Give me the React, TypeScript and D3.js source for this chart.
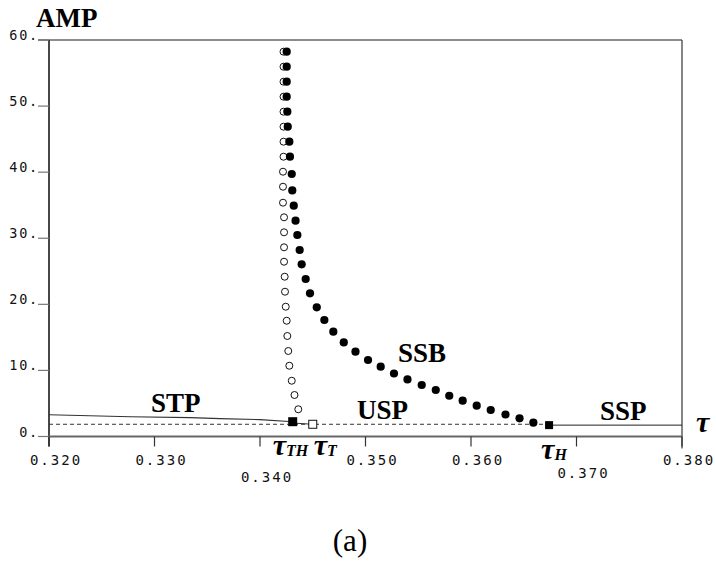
import * as d3 from 'd3';
import React from 'react';

// tau axis ticks and amplitude ticks
const tauTicks = [0.32, 0.33, 0.34, 0.35, 0.36, 0.37, 0.38];
const ampTicks = [0, 10, 20, 30, 40, 50, 60];

// STP branch (solid line to the left of tau_TH)
const stpTau = [0.32, 0.3277, 0.3334, 0.3362, 0.34, 0.3431];
const stpAmp = [3.3, 3.0, 2.85, 2.7, 2.55, 2.24];

// USP (dashed) and SSP (solid) steady states
const uspTau = [0.32, 0.3674];
const uspAmp = [1.85, 1.85];
const sspTau = [0.3674, 0.38];
const sspAmp = [1.72, 1.72];

// bifurcation points
const tauTH = 0.3431, ampTH = 2.24;
const tauT = 0.345, ampT = 1.85;
const tauH = 0.3674, ampH = 1.72;

// stable branch (filled circles)
const ssbTau = [
  0.34253, 0.34253, 0.34253, 0.34253, 0.34259, 0.34263, 0.34278, 0.34284,
  0.34301, 0.34306, 0.3432, 0.34337, 0.34354, 0.34376, 0.34395, 0.34433,
  0.34474, 0.34538, 0.3461, 0.34695, 0.34794, 0.34905, 0.35024, 0.35144,
  0.3527, 0.35398, 0.35533, 0.35666, 0.35794, 0.35921, 0.36054, 0.36187,
  0.36327, 0.3646, 0.36591,
];
const ssbAmp = [
  58.23, 55.96, 53.69, 51.42, 49.15, 46.88, 44.61, 42.34,
  39.72, 37.23, 34.93, 32.66, 30.49, 28.22, 26.06, 23.83,
  21.67, 19.55, 17.63, 15.86, 14.23, 12.83, 11.58, 10.56,
  9.53, 8.63, 7.79, 7.04, 6.17, 5.42, 4.66, 4.01,
  3.33, 2.75, 2.09,
];

// unstable branch (open circles)
const uspbTau = [
  0.34223, 0.34223, 0.34223, 0.34223, 0.34223, 0.34223, 0.34223, 0.34223,
  0.34218, 0.34218, 0.34218, 0.34228, 0.34228, 0.34228, 0.34228, 0.34234,
  0.34237, 0.34244, 0.34253, 0.34259, 0.34268, 0.34278, 0.34301, 0.34327,
  0.34363,
];
const uspbAmp = [
  58.23, 55.96, 53.69, 51.42, 49.15, 46.88, 44.61, 42.34,
  40.07, 37.8, 35.38, 33.17, 30.9, 28.63, 26.45, 24.18,
  21.91, 19.64, 17.52, 15.21, 12.94, 10.71, 8.44, 6.28,
  4.12,
];

const W = 716;
const H = 563;
const x = d3.scaleLinear().domain([0.32, 0.38]).range([49, 682]);
const y = d3.scaleLinear().domain([0, 60]).range([436.5, 40]);

const monoFont = '"DejaVu Sans Mono", monospace';
const serifFont = '"Liberation Serif", "Times New Roman", serif';

const line = (ts: number[], as: number[]) =>
  d3.line<number>().x((t) => x(t)).y((_, i) => y(as[i]))(ts) || '';

export default function App() {
  const fmt = d3.format('.3f');
  // labels that sit lower to make room for the tau_TH / tau_H labels
  const lowered: Record<string, number> = { '0.340': 482, '0.370': 478 };

  return (
    <svg
      width={W}
      height={H}
      style={{ position: 'absolute', left: 0, top: 0, background: '#fff' }}
    >
      {/* frame */}
      <line x1={38} x2={x(0.38)} y1={y(60)} y2={y(60)} stroke="#666" strokeWidth={1.4} />
      <line x1={x(0.38)} x2={x(0.38)} y1={y(60)} y2={y(0) + 12} stroke="#444" strokeWidth={1.3} />
      <line x1={x(0.32)} x2={x(0.32)} y1={y(60)} y2={y(0) + 10} stroke="#333" strokeWidth={1.8} />
      <line x1={x(0.32)} x2={x(0.38)} y1={y(0)} y2={y(0)} stroke="#666" strokeWidth={1.8} />

      {/* y ticks */}
      {ampTicks.map((v) => (
        <g key={'a' + v}>
          <line x1={38} x2={x(0.32)} y1={y(v)} y2={y(v)} stroke="#777" strokeWidth={1.2} />
          <text
            x={39}
            y={y(v)}
            textAnchor="end"
            fontFamily={monoFont}
            fontSize={13.5}
            letterSpacing={1.8}
            fill="#111"
          >
            {v + '.'}
          </text>
        </g>
      ))}

      {/* x ticks */}
      {tauTicks.map((t) => {
        const lab = fmt(t);
        return (
          <g key={'t' + t}>
            <line x1={x(t)} x2={x(t)} y1={y(0)} y2={y(0) + 10} stroke="#333" strokeWidth={1.2} />
            <text
              x={x(t) + 7}
              y={lowered[lab] ?? 465}
              textAnchor="middle"
              fontFamily={monoFont}
              fontSize={14}
              letterSpacing={2}
              fill="#111"
            >
              {lab}
            </text>
          </g>
        );
      })}

      {/* steady-state and STP lines */}
      <path d={line(uspTau, uspAmp)} fill="none" stroke="#333" strokeWidth={1} strokeDasharray="4,3" />
      <path d={line(sspTau, sspAmp)} fill="none" stroke="#222" strokeWidth={1} />
      <path d={line(stpTau, stpAmp)} fill="none" stroke="#333" strokeWidth={1.1} />
      <path d={line([tauTH, tauT], [ampTH - 0.2, ampT])} fill="none" stroke="#333" strokeWidth={1} />

      {/* unstable periodic branch */}
      {uspbTau.map((t, i) => (
        <circle key={'o' + i} cx={x(t)} cy={y(uspbAmp[i])} r={3.5} fill="#fff" stroke="#111" strokeWidth={1} />
      ))}
      {/* stable periodic branch */}
      {ssbTau.map((t, i) => (
        <circle key={'f' + i} cx={x(t)} cy={y(ssbAmp[i])} r={4.1} fill="#000" />
      ))}

      {/* bifurcation markers */}
      <rect x={x(tauTH) - 4.5} y={y(ampTH) - 4.5} width={9} height={9} fill="#000" />
      <rect x={x(tauT) - 4} y={y(ampT) - 4} width={8} height={8} fill="#fff" stroke="#111" strokeWidth={1} />
      <rect x={x(tauH) - 4} y={y(ampH) - 4} width={8} height={8} fill="#000" />

      {/* branch labels */}
      <g fontFamily={serifFont} fontWeight="bold" fontSize={27} fill="#000">
        <text x={151} y={412}>STP</text>
        <text x={398} y={362}>SSB</text>
        <text x={357} y={419}>USP</text>
        <text x={600} y={420}>SSP</text>
        <text x={36} y={27}>AMP</text>
      </g>

      {/* tau labels */}
      <g fontFamily={serifFont} fontStyle="italic" fontWeight="bold" fill="#000">
        <text x={x(tauTH) - 20} y={455} fontSize={30}>
          τ<tspan fontSize={16} dy={1}>TH</tspan>
        </text>
        <text x={x(tauT) + 1} y={455} fontSize={30}>
          τ<tspan fontSize={16} dy={1}>T</tspan>
        </text>
        <text x={x(tauH) - 8} y={459} fontSize={30}>
          τ<tspan fontSize={16} dy={1}>H</tspan>
        </text>
        <text x={696} y={432} fontSize={30}>τ</text>
      </g>

      <text x={350} y={551} textAnchor="middle" fontFamily={serifFont} fontSize={31} fill="#000">
        (a)
      </text>
    </svg>
  );
}
